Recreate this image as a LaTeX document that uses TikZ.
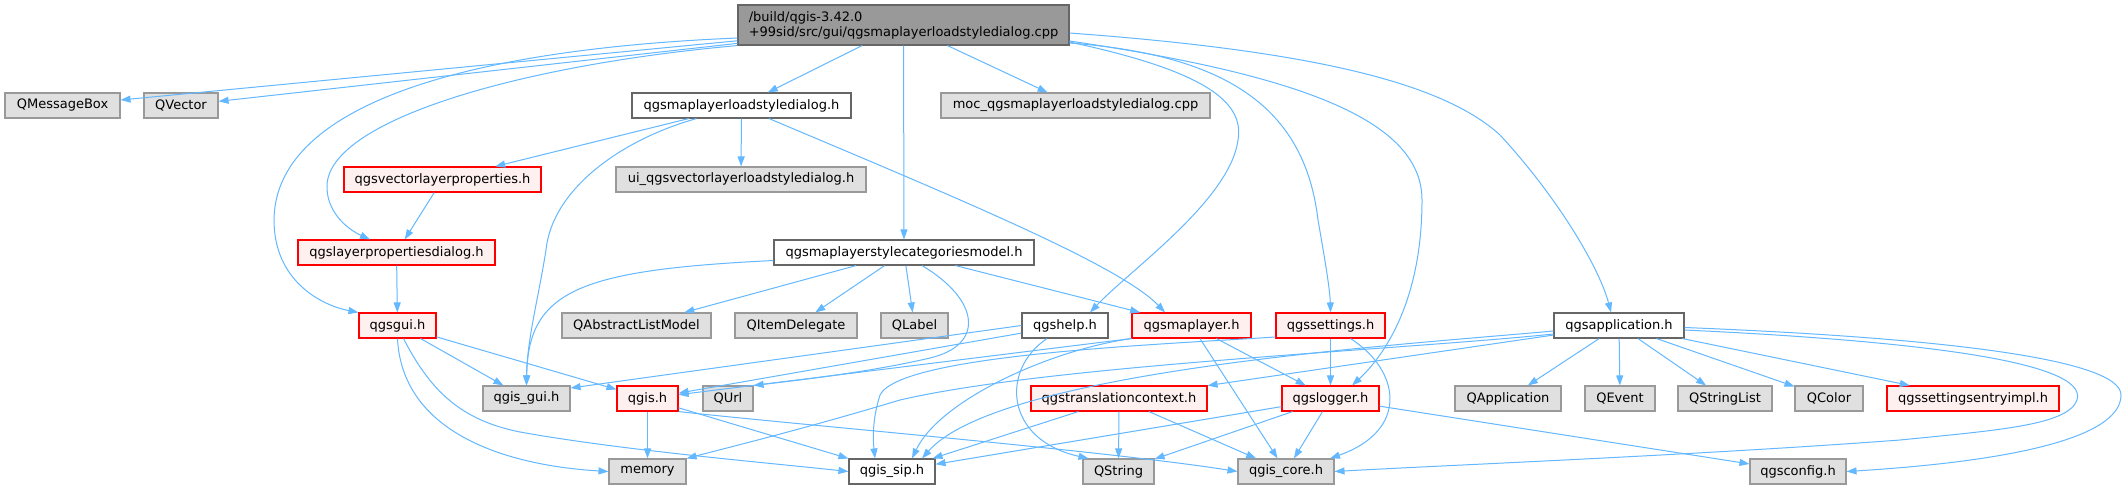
\documentclass[tikz,border=0pt]{standalone}
\usepackage{fontspec}
\setmainfont{DejaVu Sans}
\usetikzlibrary{arrows.meta}
\definecolor{edgec}{HTML}{63B8FF}
\definecolor{gfill}{HTML}{E0E0E0}
\definecolor{gdraw}{HTML}{999999}
\definecolor{wdraw}{HTML}{666666}
\definecolor{rfill}{HTML}{FFF0F0}
\definecolor{rdraw}{HTML}{FF0000}
\definecolor{cfill}{HTML}{999999}
\tikzset{
  box/.style={rectangle, inner sep=0pt, minimum height=25pt, line width=1.1pt, font=\fontsize{13}{15}\selectfont, text=black},
  grayn/.style={box, fill=gfill, draw=gdraw},
  whiten/.style={box, fill=white, draw=wdraw},
  redn/.style={box, fill=rfill, draw=rdraw},
  cppn/.style={box, fill=cfill, draw=wdraw},
  link/.style={draw=edgec, line width=1pt, -{Triangle[length=10pt,width=7pt]}, fill=none},
}
\begin{document}
\begin{tikzpicture}[x=1pt,y=-1pt]
\fill[white] (0,0) rectangle (2127,491);
\useasboundingbox (0,0) rectangle (2127,491);

% row 0
\node[cppn, minimum width=331pt, minimum height=40pt, align=left] (cpp) at (903.5,25) {/build/qgis-3.42.0\\+99sid/src/gui/qgsmaplayerloadstyledialog.cpp};
% row 1
\node[grayn, minimum width=115pt] (qmb) at (62.5,105.5) {QMessageBox};
\node[grayn, minimum width=74pt] (qvec) at (181,105.5) {QVector};
\node[whiten, minimum width=219pt] (lsd) at (741.5,105.5) {qgsmaplayerloadstyledialog.h};
\node[grayn, minimum width=269pt] (moc) at (1075.5,105.5) {moc\_qgsmaplayerloadstyledialog.cpp};
% row 2
\node[redn, minimum width=197pt] (vlp) at (442.5,179.5) {qgsvectorlayerproperties.h};
\node[grayn, minimum width=250pt] (ui) at (741,179.5) {ui\_qgsvectorlayerloadstyledialog.h};
% row 3
\node[redn, minimum width=197pt] (lpd) at (396.5,252.5) {qgslayerpropertiesdialog.h};
\node[whiten, minimum width=260pt] (model) at (904,252.5) {qgsmaplayerstylecategoriesmodel.h};
% row 4
\node[redn, minimum width=77pt] (gui) at (397.5,325.5) {qgsgui.h};
\node[grayn, minimum width=149pt] (qalm) at (636.5,325.5) {QAbstractListModel};
\node[grayn, minimum width=122pt] (qid) at (796,325.5) {QItemDelegate};
\node[grayn, minimum width=67pt] (qlabel) at (914.5,325.5) {QLabel};
\node[whiten, minimum width=86pt] (help) at (1065,325.5) {qgshelp.h};
\node[redn, minimum width=119pt] (ml) at (1191.5,325.5) {qgsmaplayer.h};
\node[redn, minimum width=109pt] (settings) at (1330.5,325.5) {qgssettings.h};
\node[whiten, minimum width=130pt] (app) at (1619,325.5) {qgsapplication.h};
% row 5
\node[grayn, minimum width=87pt] (qgisgui) at (526.5,398.5) {qgis\_gui.h};
\node[redn, minimum width=61pt] (qgis) at (647.5,398.5) {qgis.h};
\node[grayn, minimum width=50pt] (qurl) at (728,398.5) {QUrl};
\node[redn, minimum width=176pt] (tc) at (1119,398.5) {qgstranslationcontext.h};
\node[redn, minimum width=97pt] (logger) at (1330.5,398.5) {qgslogger.h};
\node[grayn, minimum width=106pt] (qapp) at (1508,398.5) {QApplication};
\node[grayn, minimum width=70pt] (qevent) at (1620,398.5) {QEvent};
\node[grayn, minimum width=94pt] (qsl) at (1725,398.5) {QStringList};
\node[grayn, minimum width=68pt] (qcolor) at (1829,398.5) {QColor};
\node[redn, minimum width=172pt] (sei) at (1973,398.5) {qgssettingsentryimpl.h};
% row 6
\node[grayn, minimum width=77pt] (memory) at (647.5,471.5) {memory};
\node[whiten, minimum width=86pt] (sip) at (892,471.5) {qgis\_sip.h};
\node[grayn, minimum width=71pt] (qstring) at (1118.5,471.5) {QString};
\node[grayn, minimum width=96pt] (core) at (1286,471.5) {qgis\_core.h};
\node[grayn, minimum width=96pt] (config) at (1798,471.5) {qgsconfig.h};

% straight connectors
\draw[link] (cpp) -- (qmb);
\draw[link] (cpp) -- (qvec);
\draw[link] (cpp) -- (lsd);
\draw[link] (cpp) -- (model);
\draw[link] (cpp) -- (moc);
\draw[link] (lsd) -- (vlp);
\draw[link] (lsd) -- (ui);
\draw[link] (vlp) -- (lpd);
\draw[link] (lpd) -- (gui);
\draw[link] (model) -- (qalm);
\draw[link] (model) -- (qid);
\draw[link] (model) -- (qlabel);
\draw[link] (model) -- (ml);
\draw[link] (gui) -- (qgisgui);
\draw[link] (gui) -- (qgis);
\draw[link] (qgis) -- (memory);
\draw[link] (qgis) -- (sip);
\draw[link] (help.west) -- ([yshift=10.5pt]qgisgui.east);
\draw[link] (help) -- (qgis);
\draw[link] (ml.south west) -- (qgis);
\draw[link] (ml) -- (core);
\draw[link] (ml) -- (logger);
\draw[link] (settings) -- (logger);
\draw[link] (tc) -- (sip);
\draw[link] (tc) -- (qstring);
\draw[link] (tc) -- (core);
\draw[link] (logger) -- (sip);
\draw[link] (logger) -- (qstring);
\draw[link] (logger) -- (core);
\draw[link] (logger) -- (config);
\draw[link] (app) -- (qapp);
\draw[link] (app) -- (qevent);
\draw[link] (app) -- (qsl);
\draw[link] (app) -- (qcolor);
\draw[link] (app) -- (sei);
\draw[link] (app) -- (tc);

% curved connectors
\draw[link] ([yshift=-13pt]cpp.west) .. controls (450,50) and (275,110) .. (274,220) .. controls (274,280) and (320,305) .. (gui.north west);
\draw[link] (cpp.south west) .. controls (520,65) and (330,120) .. (327,185) .. controls (326,210) and (345,228) .. ([xshift=-26.5pt]lpd.north);
\draw[link] ([yshift=-17pt]cpp.east) .. controls (1200,70) and (1245,100) .. (1238,140) .. controls (1230,200) and (1130,270) .. ([xshift=25pt]help.north);
\draw[link] ([yshift=-18pt]cpp.east) .. controls (1230,55) and (1305,110) .. (1318,220) .. controls (1325,260) and (1330,290) .. (settings.north);
\draw[link] ([yshift=-16pt]cpp.east) .. controls (1300,75) and (1422,120) .. (1422,200) .. controls (1422,300) and (1385,355) .. ([xshift=21.5pt]logger.north);
\draw[link] ([yshift=-8pt]cpp.east) .. controls (1300,50) and (1440,80) .. (1500,135) .. controls (1560,200) and (1600,270) .. ([xshift=-8pt]app.north);
\draw[link] ([xshift=-45pt]lsd.south) .. controls (620,140) and (552,190) .. (546,250) .. controls (538,300) and (527,340) .. (qgisgui.north);
\draw[link] ([xshift=27.5pt]lsd.south) .. controls (950,195) and (1120,265) .. ([xshift=-26.5pt]ml.north);
\draw[link] ([yshift=-8pt]model.west) .. controls (580,270) and (528,290) .. (qgisgui.north);
\draw[link] ([xshift=18pt]model.south) .. controls (980,300) and (985,345) .. (930,358) .. controls (870,372) and (800,380) .. (qurl.north east);
\draw[link] (gui.south) .. controls (402,430) and (500,465) .. (memory.west);
\draw[link] ([xshift=6pt]gui.south) .. controls (430,390) and (460,420) .. (520,432) .. controls (620,450) and (760,462) .. (sip.west);
\draw[link] (qgis.south east) .. controls (800,425) and (1100,450) .. (core.west);
\draw[link] ([xshift=-18pt]help.south) .. controls (1000,370) and (1005,440) .. ([xshift=-30pt]qstring.north);
\draw[link] (ml.south west) .. controls (1050,350) and (940,400) .. ([xshift=20pt]sip.north);
\draw[link] ([yshift=-11.5pt]settings.west) .. controls (1150,345) and (900,355) .. (880,395) .. controls (872,420) and (873,440) .. ([xshift=-17pt]sip.north);
\draw[link] ([xshift=20pt]settings.south) .. controls (1400,370) and (1410,430) .. ([xshift=44pt]core.north);
\draw[link] ([yshift=-8.5pt]app.west) .. controls (1400,350) and (1050,365) .. (900,400) .. controls (800,430) and (730,447) .. (memory.north east);
\draw[link] ([yshift=-5.5pt]app.west) .. controls (1400,345) and (1000,370) .. ([xshift=30pt]sip.north);
\draw[link] ([yshift=-4.5pt]app.east) .. controls (1900,340) and (2090,360) .. (2077,400) .. controls (2068,425) and (2000,430) .. (1900,440) .. controls (1700,455) and (1450,465) .. (core.east);
\draw[link] ([yshift=-2pt]app.east) .. controls (1950,338) and (2121,360) .. (2121,395) .. controls (2121,440) and (2000,462) .. (config.east);
\end{tikzpicture}
\end{document}
